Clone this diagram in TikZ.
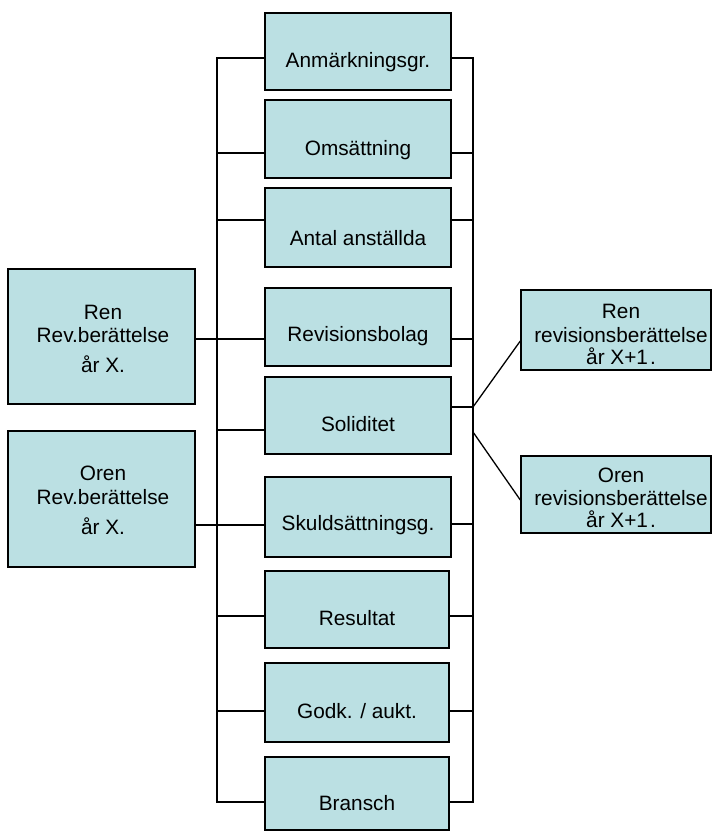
\documentclass[tikz,border=0pt]{standalone}
\usepackage{fontspec}
\setmainfont{Liberation Sans}
\usetikzlibrary{fit}
\definecolor{boxfill}{HTML}{BBE0E3}
\begin{document}
\begin{tikzpicture}[x=1pt,y=-1pt,
  box/.style={draw=black, fill=boxfill, line width=1.4pt, inner sep=0pt, rectangle},
  txt/.style={inner sep=0pt, text height=15pt, text depth=0pt, font=\fontsize{20.8}{25}\selectfont},
  conn/.style={draw=black, line width=1.3pt}]
\useasboundingbox (0,0) rectangle (712,832);

% middle column
\node[box, fit={(265,13) (451,90)}] (b1) {};
\node[box, fit={(265,100) (451,178)}] (b2) {};
\node[box, fit={(265,188) (451,267)}] (b3) {};
\node[box, fit={(265,288) (451,366)}] (b4) {};
\node[box, fit={(265,377) (451,454)}] (b5) {};
\node[box, fit={(265,477) (451,557)}] (b6) {};
\node[box, fit={(265,571) (449,648)}] (b7) {};
\node[box, fit={(265,663) (449,742)}] (b8) {};
\node[box, fit={(265,757) (449,830)}] (b9) {};

\node[txt] (t1) at (358,60) {Anmärkningsgr.};
\node[txt] (t2) at (358,148) {Omsättning};
\node[txt] (t3) at (358,238) {Antal anställda};
\node[txt] (t4) at (358,334) {Revisionsbolag};
\node[txt] (t5) at (358,424) {Soliditet};
\node[txt] (t6) at (358,523) {Skuldsättningsg.};
\node[txt] (t7) at (357,618) {Resultat};
\node[txt] (t8) at (357,711) {Godk. / aukt.};
\node[txt] (t9) at (357,803) {Bransch};

% left boxes
\node[box, fit={(8,269) (195,404)}] (L1) {};
\node[txt] (L1a) at (103,312) {Ren};
\node[txt] (L1b) at (103,335) {Rev.berättelse};
\node[txt] (L1c) at (103,365) {år X.};
\node[box, fit={(8,431) (195,567)}] (L2) {};
\node[txt] (L2a) at (103,473) {Oren};
\node[txt] (L2b) at (103,497) {Rev.berättelse};
\node[txt] (L2c) at (103,527) {år X.};

% right boxes
\node[box, fit={(521,290) (711,370)}] (R1) {};
\node[txt] (R1a) at (621,311) {Ren};
\node[txt] (R1b) at (621,335) {revisionsberättelse};
\node[txt] (R1c) at (621,357) {år X+1\kern2pt.};
\node[box, fit={(521,456) (711,533)}] (R2) {};
\node[txt] (R2a) at (621,475) {Oren};
\node[txt] (R2b) at (621,498) {revisionsberättelse};
\node[txt] (R2c) at (621,520) {år X+1\kern2pt.};

% buses
\coordinate (LT) at (217,58);
\coordinate (LB) at (217,802);
\coordinate (RT) at (473,58);
\coordinate (RB) at (473,802);
\draw[conn] (b1.west |- LT) -- (LT) -- (LB) -- (b9.west |- LB);
\draw[conn] (b1.east |- RT) -- (RT) -- (RB) -- (b9.east |- RB);

% left branches
\draw[conn] (LT |- 0,153) -- (b2.west |- 0,153);
\draw[conn] (LT |- 0,220) -- (b3.west |- 0,220);
\draw[conn] (L1.east |- 0,339) -- (b4.west |- 0,339);
\draw[conn] (LT |- 0,430) -- (b5.west |- 0,430);
\draw[conn] (L2.east |- 0,525) -- (b6.west |- 0,525);
\draw[conn] (LT |- 0,616) -- (b7.west |- 0,616);
\draw[conn] (LT |- 0,711) -- (b8.west |- 0,711);

% right branches
\draw[conn] (b2.east |- 0,153) -- (RT |- 0,153);
\draw[conn] (b3.east |- 0,220) -- (RT |- 0,220);
\draw[conn] (b4.east |- 0,339) -- (RT |- 0,339);
\draw[conn] (b5.east |- 0,407) -- (RT |- 0,407);
\draw[conn] (b6.east |- 0,524) -- (RT |- 0,524);
\draw[conn] (b7.east |- 0,616) -- (RT |- 0,616);
\draw[conn] (b8.east |- 0,711) -- (RT |- 0,711);

% diagonals
\coordinate (D1) at (473,407);
\coordinate (D2) at (473,432);
\draw[conn] (D1) -- (R1.west |- 0,341);
\draw[conn] (D2) -- (R2.west |- 0,500);
\end{tikzpicture}
\end{document}
